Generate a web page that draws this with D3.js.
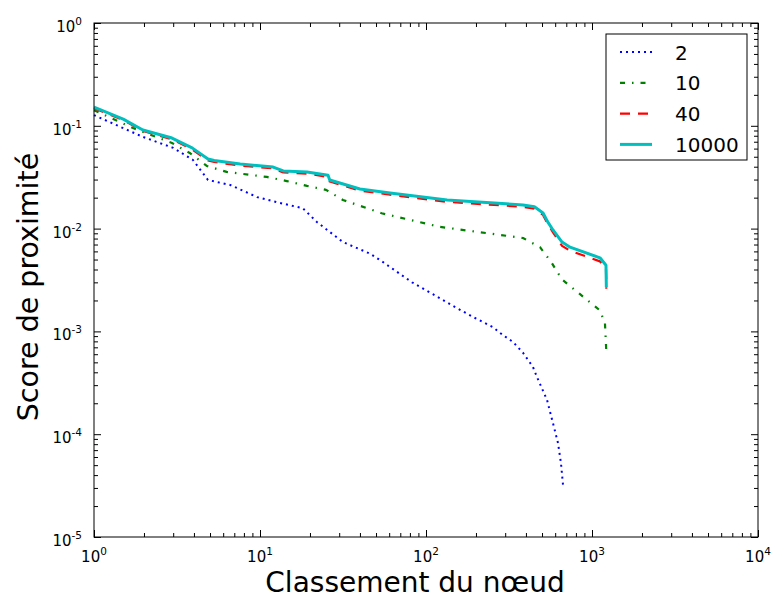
<!DOCTYPE html>
<html>
<head>
<meta charset="utf-8">
<script src="https://cdn.jsdelivr.net/npm/d3@7"></script>
<style>
  body { margin: 0; background: #fff; }
  svg { display: block; font-family: "DejaVu Sans", sans-serif; }
</style>
</head>
<body>
<script>
// series: node rank vs proximity score, one per walk length
const rank2 = [1, 1.97, 3, 3.95, 4.86, 6.6, 9.6, 12.7, 18.1, 22, 31.6, 46, 54.3, 82.4, 110, 145.5, 192, 253, 291, 334, 384, 441, 466, 536, 582, 624, 650, 669];
const score2 = [0.127, 0.078, 0.061, 0.0465, 0.0297, 0.0266, 0.0203, 0.018, 0.0158, 0.0116, 0.0074, 0.0057, 0.0048, 0.003, 0.0023, 0.00177, 0.00138, 0.0011, 0.00092, 0.00079, 0.00062, 0.00045, 0.00036, 0.000215, 0.000128, 0.000082, 0.0000525, 0.000032];

const rank10 = [1, 1.72, 2.95, 3.8, 4.8, 6.3, 11, 14.5, 19.2, 25, 31.6, 54, 121, 384, 486, 574, 660, 847, 1117, 1197, 1220];
const score10 = [0.142, 0.095, 0.068, 0.054, 0.0406, 0.0356, 0.0318, 0.029, 0.026, 0.0238, 0.019, 0.0141, 0.0104, 0.0081, 0.0066, 0.0046, 0.0032, 0.0023, 0.0016, 0.0012, 0.00063];

const rank40 = [1, 1.5, 1.97, 2.95, 3.9, 4.86, 5.3, 7.6, 12, 13.8, 19.2, 25.7, 26.3, 40, 60.7, 134, 384, 450, 507, 540, 582, 660, 737, 1117, 1214, 1220];
const score40 = [0.148, 0.114, 0.089, 0.074, 0.059, 0.046, 0.0445, 0.041, 0.0385, 0.0352, 0.0343, 0.0318, 0.0287, 0.0234, 0.0214, 0.0182, 0.0163, 0.0156, 0.0136, 0.0112, 0.0092, 0.0068, 0.0061, 0.0048, 0.0041, 0.0026];

const rank10000 = [1, 1.5, 1.97, 2.95, 3.9, 4.86, 5.3, 7.6, 12, 13.8, 19.2, 25.7, 26.3, 40, 60.7, 134, 384, 450, 507, 540, 582, 660, 737, 1117, 1214, 1220];
const score10000 = [0.152, 0.116, 0.091, 0.076, 0.061, 0.0475, 0.046, 0.0425, 0.0397, 0.0364, 0.0356, 0.033, 0.0297, 0.0243, 0.0222, 0.019, 0.017, 0.0163, 0.0142, 0.0117, 0.0097, 0.0074, 0.0066, 0.0052, 0.0044, 0.0027];

const seriesNames = ["2", "10", "40", "10000"];
const xExponents = [0, 1, 2, 3, 4];
const yExponents = [0, -1, -2, -3, -4, -5];

const width = 774;
const height = 599;
const margin = { top: 23, right: 16, bottom: 62, left: 94 };

const svg = d3.select("body").append("svg")
  .attr("width", width)
  .attr("height", height);

const x = d3.scaleLog()
  .domain([1, 1e4])
  .range([margin.left, width - margin.right]);

const y = d3.scaleLog()
  .domain([1e-5, 1])
  .range([height - margin.bottom, margin.top]);

const x0 = x.range()[0], x1 = x.range()[1];
const y0 = y.range()[0], y1 = y.range()[1];

// major + minor tick values
const xMajor = xExponents.map(e => Math.pow(10, e));
const yMajor = yExponents.map(e => Math.pow(10, e));
function minorsOf(majors) {
  const out = [];
  majors.slice(0, -1).forEach(m => {
    for (let k = 2; k < 10; k++) out.push(m * k);
  });
  return out;
}
const xMinor = minorsOf(xMajor);
const yMinor = minorsOf(yMajor.slice().reverse());

// lines
const line = d3.line()
  .x(d => x(d[0]))
  .y(d => y(d[1]));

const series = [
  { name: seriesNames[0], xs: rank2, ys: score2, color: "#0000ff", width: 2, dash: "2,4" },
  { name: seriesNames[1], xs: rank10, ys: score10, color: "#008000", width: 2.2, dash: "5,7,1.5,7" },
  { name: seriesNames[2], xs: rank40, ys: score40, color: "#ff0000", width: 2.2, dash: "10,8" },
  { name: seriesNames[3], xs: rank10000, ys: score10000, color: "#00bfbf", width: 3, dash: null }
];

const plot = svg.append("g");
plot.selectAll("path")
  .data(series)
  .enter()
  .append("path")
  .attr("d", s => line(s.xs.map((v, i) => [v, s.ys[i]])))
  .attr("fill", "none")
  .attr("stroke", s => s.color)
  .attr("stroke-width", s => s.width)
  .attr("stroke-linejoin", "round")
  .attr("stroke-dasharray", s => s.dash);

// axes, ticks point inward on all four sides
function tickAxis(axisFn, scale, values, size, transform) {
  svg.append("g")
    .attr("transform", transform)
    .call(axisFn(scale).tickValues(values).tickSizeInner(-size).tickSizeOuter(0).tickFormat(""))
    .call(g => g.select(".domain").remove())
    .call(g => g.selectAll(".tick line").attr("stroke", "#000"));
}
tickAxis(d3.axisBottom, x, xMajor, 7, `translate(0,${y0})`);
tickAxis(d3.axisBottom, x, xMinor, 4, `translate(0,${y0})`);
tickAxis(d3.axisTop, x, xMajor, 7, `translate(0,${y1})`);
tickAxis(d3.axisTop, x, xMinor, 4, `translate(0,${y1})`);
tickAxis(d3.axisLeft, y, yMajor, 7, `translate(${x0},0)`);
tickAxis(d3.axisLeft, y, yMinor, 4, `translate(${x0},0)`);
tickAxis(d3.axisRight, y, yMajor, 7, `translate(${x1},0)`);
tickAxis(d3.axisRight, y, yMinor, 4, `translate(${x1},0)`);

svg.append("rect")
  .attr("x", x0).attr("y", y1)
  .attr("width", x1 - x0).attr("height", y0 - y1)
  .attr("fill", "none")
  .attr("stroke", "#000")
  .attr("stroke-width", 1);

// tick labels as 10^n
function powLabel(sel, e) {
  sel.append("tspan").text("10");
  sel.append("tspan").attr("dy", -7).attr("font-size", 10.5).text(e);
}
xExponents.forEach(e => {
  svg.append("text")
    .attr("x", x(Math.pow(10, e)))
    .attr("y", y0 + 25)
    .attr("text-anchor", "middle")
    .attr("font-size", 15)
    .call(powLabel, e);
});
yExponents.forEach(e => {
  svg.append("text")
    .attr("x", x0 - 12)
    .attr("y", y(Math.pow(10, e)) + 9)
    .attr("text-anchor", "end")
    .attr("font-size", 15)
    .call(powLabel, e);
});

// axis titles
svg.append("text")
  .attr("x", 415)
  .attr("y", 592)
  .attr("text-anchor", "middle")
  .attr("font-size", 28)
  .text("Classement du nœud");

svg.append("text")
  .attr("transform", "translate(38,287) rotate(-90)")
  .attr("text-anchor", "middle")
  .attr("font-size", 28.5)
  .text("Score de proximité");

// legend
const legend = svg.append("g");
legend.append("rect")
  .attr("x", 606).attr("y", 34)
  .attr("width", 141).attr("height", 126)
  .attr("fill", "#fff")
  .attr("stroke", "#000");

series.forEach((s, i) => {
  const ly = 52 + i * 30.8;
  legend.append("line")
    .attr("x1", 620).attr("x2", 652)
    .attr("y1", ly).attr("y2", ly)
    .attr("stroke", s.color)
    .attr("stroke-width", s.width)
    .attr("stroke-dasharray", s.dash);
  legend.append("text")
    .attr("x", 675)
    .attr("y", ly + 7.5)
    .attr("font-size", 20)
    .text(s.name);
});
</script>
</body>
</html>
